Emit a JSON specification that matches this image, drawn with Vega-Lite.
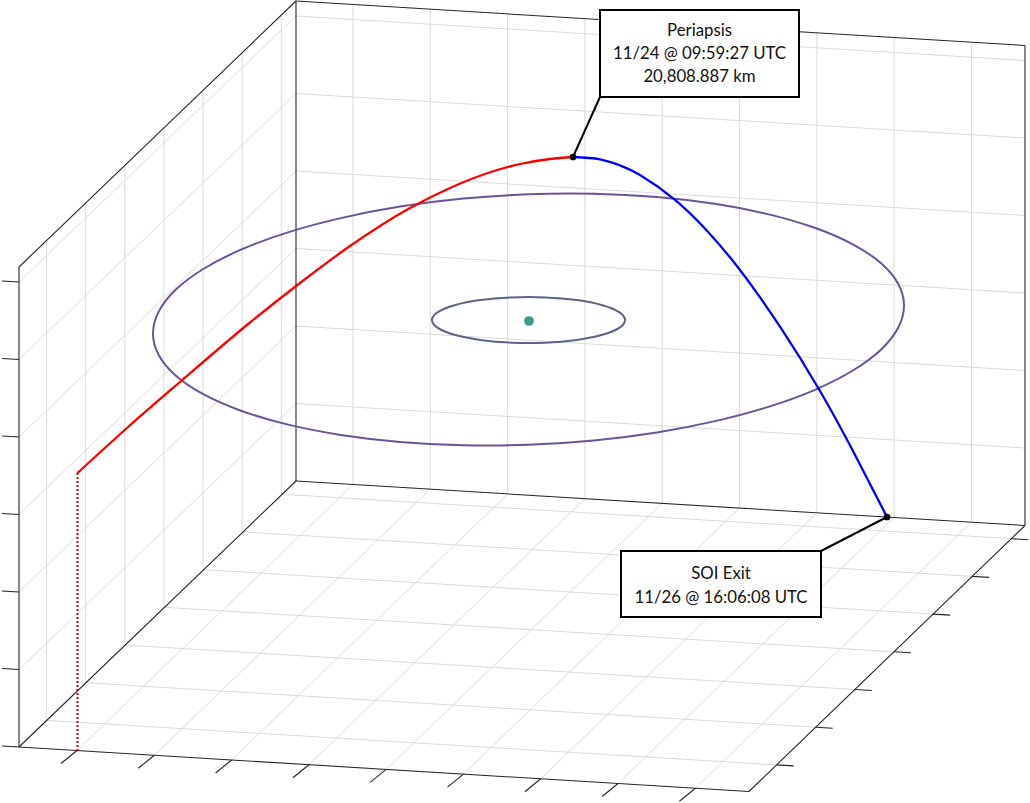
{
  "$schema": "https://vega.github.io/schema/vega-lite/v6.json",
  "width": 1030,
  "height": 803,
  "padding": 0,
  "autosize": {"type": "none"},
  "background": "white",
  "config": {"view": {"stroke": null}},
  "datasets": {
    "segs": [
      {"x": 77, "y": 750.5, "x2": 353, "y2": 484.5, "kind": "g"},
      {"x": 154.3, "y": 755.3, "x2": 430.3, "y2": 489.3, "kind": "g"},
      {"x": 231.6, "y": 760, "x2": 507.6, "y2": 494, "kind": "g"},
      {"x": 308.9, "y": 764.7, "x2": 584.9, "y2": 498.7, "kind": "g"},
      {"x": 386.2, "y": 769.4, "x2": 662.2, "y2": 503.4, "kind": "g"},
      {"x": 463.5, "y": 774.1, "x2": 739.5, "y2": 508.1, "kind": "g"},
      {"x": 540.8, "y": 778.8, "x2": 816.8, "y2": 512.8, "kind": "g"},
      {"x": 618.1, "y": 783.5, "x2": 894.1, "y2": 517.5, "kind": "g"},
      {"x": 695.4, "y": 788.2, "x2": 971.4, "y2": 522.2, "kind": "g"},
      {"x": 353, "y": 484.5, "x2": 353, "y2": 4.5, "kind": "g"},
      {"x": 430.3, "y": 489.3, "x2": 430.3, "y2": 9.3, "kind": "g"},
      {"x": 507.6, "y": 494, "x2": 507.6, "y2": 14, "kind": "g"},
      {"x": 584.9, "y": 498.7, "x2": 584.9, "y2": 18.7, "kind": "g"},
      {"x": 662.2, "y": 503.4, "x2": 662.2, "y2": 23.4, "kind": "g"},
      {"x": 739.5, "y": 508.1, "x2": 739.5, "y2": 28.1, "kind": "g"},
      {"x": 816.8, "y": 512.8, "x2": 816.8, "y2": 32.8, "kind": "g"},
      {"x": 894.1, "y": 517.5, "x2": 894.1, "y2": 37.5, "kind": "g"},
      {"x": 971.4, "y": 522.2, "x2": 971.4, "y2": 42.2, "kind": "g"},
      {"x": 46.6, "y": 720.4, "x2": 776.6, "y2": 764.9, "kind": "g"},
      {"x": 85.7, "y": 682.7, "x2": 815.7, "y2": 727.2, "kind": "g"},
      {"x": 124.8, "y": 645.0, "x2": 854.8, "y2": 689.5, "kind": "g"},
      {"x": 163.9, "y": 607.3, "x2": 893.9, "y2": 651.8, "kind": "g"},
      {"x": 203.0, "y": 569.6, "x2": 933.0, "y2": 614.1, "kind": "g"},
      {"x": 242.1, "y": 531.9, "x2": 972.1, "y2": 576.4, "kind": "g"},
      {"x": 281.3, "y": 494.2, "x2": 1011.3, "y2": 538.7, "kind": "g"},
      {"x": 46.6, "y": 720.4, "x2": 46.6, "y2": 240.4, "kind": "g"},
      {"x": 85.7, "y": 682.7, "x2": 85.7, "y2": 202.7, "kind": "g"},
      {"x": 124.8, "y": 645.0, "x2": 124.8, "y2": 165.0, "kind": "g"},
      {"x": 163.9, "y": 607.3, "x2": 163.9, "y2": 127.3, "kind": "g"},
      {"x": 203.0, "y": 569.6, "x2": 203.0, "y2": 89.6, "kind": "g"},
      {"x": 242.1, "y": 531.9, "x2": 242.1, "y2": 51.9, "kind": "g"},
      {"x": 281.3, "y": 494.2, "x2": 281.3, "y2": 14.2, "kind": "g"},
      {"x": 19, "y": 669.5, "x2": 296, "y2": 403.5, "kind": "g"},
      {"x": 19, "y": 592, "x2": 296, "y2": 326, "kind": "g"},
      {"x": 19, "y": 514.5, "x2": 296, "y2": 248.5, "kind": "g"},
      {"x": 19, "y": 437, "x2": 296, "y2": 171, "kind": "g"},
      {"x": 19, "y": 359.5, "x2": 296, "y2": 93.5, "kind": "g"},
      {"x": 19, "y": 282, "x2": 296, "y2": 16, "kind": "g"},
      {"x": 296, "y": 403.5, "x2": 1025, "y2": 448, "kind": "g"},
      {"x": 296, "y": 326, "x2": 1025, "y2": 370.5, "kind": "g"},
      {"x": 296, "y": 248.5, "x2": 1025, "y2": 293, "kind": "g"},
      {"x": 296, "y": 171, "x2": 1025, "y2": 215.5, "kind": "g"},
      {"x": 296, "y": 93.5, "x2": 1025, "y2": 138, "kind": "g"},
      {"x": 296, "y": 16, "x2": 1025, "y2": 60.5, "kind": "g"},
      {"x": 19, "y": 267, "x2": 19, "y2": 747, "kind": "e"},
      {"x": 19, "y": 267, "x2": 296, "y2": 1, "kind": "e"},
      {"x": 296, "y": 1, "x2": 296, "y2": 481, "kind": "e"},
      {"x": 296, "y": 1, "x2": 1025, "y2": 45.5, "kind": "e"},
      {"x": 1025, "y": 45.5, "x2": 1025, "y2": 525.5, "kind": "e"},
      {"x": 296, "y": 481, "x2": 1025, "y2": 525.5, "kind": "e"},
      {"x": 19, "y": 747, "x2": 296, "y2": 481, "kind": "e"},
      {"x": 19, "y": 747, "x2": 749, "y2": 791.5, "kind": "e"},
      {"x": 749, "y": 791.5, "x2": 1025, "y2": 525.5, "kind": "e"},
      {"x": 77, "y": 750.5, "x2": 61, "y2": 763.5, "kind": "t"},
      {"x": 154.3, "y": 755.3, "x2": 138.3, "y2": 768.3, "kind": "t"},
      {"x": 231.6, "y": 760, "x2": 215.6, "y2": 773, "kind": "t"},
      {"x": 308.9, "y": 764.7, "x2": 292.9, "y2": 777.7, "kind": "t"},
      {"x": 386.2, "y": 769.4, "x2": 370.2, "y2": 782.4, "kind": "t"},
      {"x": 463.5, "y": 774.1, "x2": 447.5, "y2": 787.1, "kind": "t"},
      {"x": 540.8, "y": 778.8, "x2": 524.8, "y2": 791.8, "kind": "t"},
      {"x": 618.1, "y": 783.5, "x2": 602.1, "y2": 796.5, "kind": "t"},
      {"x": 695.4, "y": 788.2, "x2": 679.4, "y2": 801.2, "kind": "t"},
      {"x": 776.6, "y": 764.9, "x2": 793.6, "y2": 765.9, "kind": "t"},
      {"x": 815.7, "y": 727.2, "x2": 832.7, "y2": 728.2, "kind": "t"},
      {"x": 854.8, "y": 689.5, "x2": 871.8, "y2": 690.5, "kind": "t"},
      {"x": 893.9, "y": 651.8, "x2": 910.9, "y2": 652.8, "kind": "t"},
      {"x": 933.0, "y": 614.1, "x2": 950.0, "y2": 615.1, "kind": "t"},
      {"x": 972.1, "y": 576.4, "x2": 989.1, "y2": 577.4, "kind": "t"},
      {"x": 1011.3, "y": 538.7, "x2": 1028.3, "y2": 539.7, "kind": "t"},
      {"x": 19, "y": 747, "x2": 2, "y2": 746, "kind": "t"},
      {"x": 19, "y": 669.5, "x2": 2, "y2": 668.5, "kind": "t"},
      {"x": 19, "y": 592, "x2": 2, "y2": 591, "kind": "t"},
      {"x": 19, "y": 514.5, "x2": 2, "y2": 513.5, "kind": "t"},
      {"x": 19, "y": 437, "x2": 2, "y2": 436, "kind": "t"},
      {"x": 19, "y": 359.5, "x2": 2, "y2": 358.5, "kind": "t"},
      {"x": 19, "y": 282, "x2": 2, "y2": 281, "kind": "t"},
      {"x": 573, "y": 157, "x2": 600, "y2": 97, "kind": "l"},
      {"x": 887, "y": 517, "x2": 821, "y2": 551, "kind": "l"}
    ],
    "orbits": [
      {"series": "outer", "i": 0, "x": 904, "y": 305.5},
      {"series": "outer", "i": 1, "x": 898.3, "y": 327.5},
      {"series": "outer", "i": 2, "x": 881.4, "y": 349.2},
      {"series": "outer", "i": 3, "x": 853.7, "y": 370},
      {"series": "outer", "i": 4, "x": 816.1, "y": 389.3},
      {"series": "outer", "i": 5, "x": 769.9, "y": 406.4},
      {"series": "outer", "i": 6, "x": 716.3, "y": 420.9},
      {"series": "outer", "i": 7, "x": 656.9, "y": 432.4},
      {"series": "outer", "i": 8, "x": 593.7, "y": 440.4},
      {"series": "outer", "i": 9, "x": 528.5, "y": 444.7},
      {"series": "outer", "i": 10, "x": 463.3, "y": 445.2},
      {"series": "outer", "i": 11, "x": 400.1, "y": 441.9},
      {"series": "outer", "i": 12, "x": 340.8, "y": 434.9},
      {"series": "outer", "i": 13, "x": 287.1, "y": 424.4},
      {"series": "outer", "i": 14, "x": 240.9, "y": 410.7},
      {"series": "outer", "i": 15, "x": 203.3, "y": 394.2},
      {"series": "outer", "i": 16, "x": 175.6, "y": 375.5},
      {"series": "outer", "i": 17, "x": 158.7, "y": 355},
      {"series": "outer", "i": 18, "x": 153, "y": 333.5},
      {"series": "outer", "i": 19, "x": 158.7, "y": 311.6},
      {"series": "outer", "i": 20, "x": 175.6, "y": 289.8},
      {"series": "outer", "i": 21, "x": 203.3, "y": 269},
      {"series": "outer", "i": 22, "x": 240.9, "y": 249.7},
      {"series": "outer", "i": 23, "x": 287.1, "y": 232.6},
      {"series": "outer", "i": 24, "x": 340.8, "y": 218.1},
      {"series": "outer", "i": 25, "x": 400.1, "y": 206.6},
      {"series": "outer", "i": 26, "x": 463.3, "y": 198.6},
      {"series": "outer", "i": 27, "x": 528.5, "y": 194.3},
      {"series": "outer", "i": 28, "x": 593.7, "y": 193.8},
      {"series": "outer", "i": 29, "x": 656.9, "y": 197.1},
      {"series": "outer", "i": 30, "x": 716.3, "y": 204.1},
      {"series": "outer", "i": 31, "x": 769.9, "y": 214.6},
      {"series": "outer", "i": 32, "x": 816.1, "y": 228.3},
      {"series": "outer", "i": 33, "x": 853.7, "y": 244.8},
      {"series": "outer", "i": 34, "x": 881.4, "y": 263.5},
      {"series": "outer", "i": 35, "x": 898.3, "y": 284},
      {"series": "inner", "i": 0, "x": 625, "y": 320},
      {"series": "inner", "i": 1, "x": 619.2, "y": 327.9},
      {"series": "inner", "i": 2, "x": 602.4, "y": 334.8},
      {"series": "inner", "i": 3, "x": 576.8, "y": 339.9},
      {"series": "inner", "i": 4, "x": 545.3, "y": 342.7},
      {"series": "inner", "i": 5, "x": 511.8, "y": 342.7},
      {"series": "inner", "i": 6, "x": 480.3, "y": 339.9},
      {"series": "inner", "i": 7, "x": 454.6, "y": 334.8},
      {"series": "inner", "i": 8, "x": 437.8, "y": 327.9},
      {"series": "inner", "i": 9, "x": 432, "y": 320},
      {"series": "inner", "i": 10, "x": 437.8, "y": 312.1},
      {"series": "inner", "i": 11, "x": 454.6, "y": 305.2},
      {"series": "inner", "i": 12, "x": 480.3, "y": 300.1},
      {"series": "inner", "i": 13, "x": 511.8, "y": 297.4},
      {"series": "inner", "i": 14, "x": 545.3, "y": 297.4},
      {"series": "inner", "i": 15, "x": 576.8, "y": 300.1},
      {"series": "inner", "i": 16, "x": 602.4, "y": 305.2},
      {"series": "inner", "i": 17, "x": 619.2, "y": 312.1}
    ],
    "traj": [
      {"series": "in", "i": 0, "x": 77.5, "y": 473},
      {"series": "in", "i": 1, "x": 127, "y": 428},
      {"series": "in", "i": 2, "x": 180, "y": 382},
      {"series": "in", "i": 3, "x": 250, "y": 322.5},
      {"series": "in", "i": 4, "x": 300, "y": 283},
      {"series": "in", "i": 5, "x": 350, "y": 246},
      {"series": "in", "i": 6, "x": 410, "y": 208},
      {"series": "in", "i": 7, "x": 450, "y": 188},
      {"series": "in", "i": 8, "x": 485, "y": 174},
      {"series": "in", "i": 9, "x": 520, "y": 164},
      {"series": "in", "i": 10, "x": 550, "y": 159},
      {"series": "in", "i": 11, "x": 573, "y": 157},
      {"series": "out", "i": 0, "x": 573, "y": 157},
      {"series": "out", "i": 1, "x": 600, "y": 159.3},
      {"series": "out", "i": 2, "x": 620, "y": 165.4},
      {"series": "out", "i": 3, "x": 640, "y": 175},
      {"series": "out", "i": 4, "x": 675, "y": 199.8},
      {"series": "out", "i": 5, "x": 707, "y": 230.7},
      {"series": "out", "i": 6, "x": 740, "y": 270},
      {"series": "out", "i": 7, "x": 780, "y": 326.7},
      {"series": "out", "i": 8, "x": 820, "y": 391},
      {"series": "out", "i": 9, "x": 853, "y": 451},
      {"series": "out", "i": 10, "x": 887, "y": 517},
      {"series": "drop", "i": 0, "x": 77.5, "y": 473},
      {"series": "drop", "i": 1, "x": 77.5, "y": 752}
    ],
    "boxes": [
      {"x": 600, "y": 10, "x2": 799, "y2": 97},
      {"x": 621, "y": 551, "x2": 821, "y2": 617}
    ],
    "labels": [
      {"x": 699.5, "y": 31, "text": "Periapsis"},
      {"x": 699.5, "y": 54, "text": "11/24 @ 09:59:27 UTC"},
      {"x": 699.5, "y": 77, "text": "20,808.887 km"},
      {"x": 721, "y": 574, "text": "SOI Exit"},
      {"x": 721, "y": 598, "text": "11/26 @ 16:06:08 UTC"}
    ],
    "pts": [
      {"x": 573, "y": 157, "kind": "event"},
      {"x": 887, "y": 517, "kind": "event"},
      {"x": 529, "y": 321, "kind": "body"}
    ]
  },
  "layer": [
    {
      "data": {"name": "segs"},
      "transform": [{"filter": "datum.kind === 'g'"}],
      "mark": {"type": "rule", "color": "#dadada", "strokeWidth": 1},
      "encoding": {
        "x": {"field": "x", "type": "quantitative", "scale": {"domain": [0, 1030], "nice": false, "zero": false}, "axis": null},
        "y": {"field": "y", "type": "quantitative", "scale": {"domain": [0, 803], "nice": false, "zero": false, "reverse": true}, "axis": null},
        "x2": {"field": "x2"},
        "y2": {"field": "y2"}
      }
    },
    {
      "data": {"name": "segs"},
      "transform": [{"filter": "datum.kind === 'e' || datum.kind === 't'"}],
      "mark": {"type": "rule", "color": "#262626", "strokeWidth": 1.1},
      "encoding": {
        "x": {"field": "x", "type": "quantitative"},
        "y": {"field": "y", "type": "quantitative"},
        "x2": {"field": "x2"},
        "y2": {"field": "y2"}
      }
    },
    {
      "data": {"name": "orbits"},
      "transform": [{"filter": "datum.series === 'outer'"}],
      "mark": {"type": "line", "color": "#6c5496", "strokeWidth": 2, "interpolate": "cardinal-closed"},
      "encoding": {
        "x": {"field": "x", "type": "quantitative"},
        "y": {"field": "y", "type": "quantitative"},
        "order": {"field": "i", "type": "quantitative"}
      }
    },
    {
      "data": {"name": "orbits"},
      "transform": [{"filter": "datum.series === 'inner'"}],
      "mark": {"type": "line", "color": "#5c6488", "strokeWidth": 2, "interpolate": "cardinal-closed"},
      "encoding": {
        "x": {"field": "x", "type": "quantitative"},
        "y": {"field": "y", "type": "quantitative"},
        "order": {"field": "i", "type": "quantitative"}
      }
    },
    {
      "data": {"name": "pts"},
      "transform": [{"filter": "datum.kind === 'body'"}],
      "mark": {"type": "point", "filled": true, "color": "#3d9a8a", "opacity": 1, "size": 95},
      "encoding": {
        "x": {"field": "x", "type": "quantitative"},
        "y": {"field": "y", "type": "quantitative"}
      }
    },
    {
      "data": {"name": "traj"},
      "transform": [{"filter": "datum.series === 'in'"}],
      "mark": {"type": "line", "color": "#ff0000", "strokeWidth": 2.3, "interpolate": "monotone"},
      "encoding": {
        "x": {"field": "x", "type": "quantitative"},
        "y": {"field": "y", "type": "quantitative"},
        "order": {"field": "i", "type": "quantitative"}
      }
    },
    {
      "data": {"name": "traj"},
      "transform": [{"filter": "datum.series === 'out'"}],
      "mark": {"type": "line", "color": "#0000ff", "strokeWidth": 2.3, "interpolate": "natural"},
      "encoding": {
        "x": {"field": "x", "type": "quantitative"},
        "y": {"field": "y", "type": "quantitative"},
        "order": {"field": "i", "type": "quantitative"}
      }
    },
    {
      "data": {"name": "traj"},
      "transform": [{"filter": "datum.series === 'drop'"}],
      "mark": {"type": "line", "color": "#cc0000", "strokeWidth": 2, "strokeDash": [2, 2]},
      "encoding": {
        "x": {"field": "x", "type": "quantitative"},
        "y": {"field": "y", "type": "quantitative"},
        "order": {"field": "i", "type": "quantitative"}
      }
    },
    {
      "data": {"name": "segs"},
      "transform": [{"filter": "datum.kind === 'l'"}],
      "mark": {"type": "rule", "color": "#000000", "strokeWidth": 2},
      "encoding": {
        "x": {"field": "x", "type": "quantitative"},
        "y": {"field": "y", "type": "quantitative"},
        "x2": {"field": "x2"},
        "y2": {"field": "y2"}
      }
    },
    {
      "data": {"name": "boxes"},
      "mark": {"type": "rect", "fill": "#ffffff", "stroke": "#000000", "strokeWidth": 2},
      "encoding": {
        "x": {"field": "x", "type": "quantitative"},
        "y": {"field": "y", "type": "quantitative"},
        "x2": {"field": "x2"},
        "y2": {"field": "y2"}
      }
    },
    {
      "data": {"name": "labels"},
      "mark": {"type": "text", "font": "Lato", "fontSize": 16.8, "color": "#111111", "align": "center", "baseline": "middle"},
      "encoding": {
        "x": {"field": "x", "type": "quantitative"},
        "y": {"field": "y", "type": "quantitative"},
        "text": {"field": "text"}
      }
    },
    {
      "data": {"name": "pts"},
      "transform": [{"filter": "datum.kind === 'event'"}],
      "mark": {"type": "point", "filled": true, "color": "#000000", "opacity": 1, "size": 45},
      "encoding": {
        "x": {"field": "x", "type": "quantitative"},
        "y": {"field": "y", "type": "quantitative"}
      }
    }
  ]
}
